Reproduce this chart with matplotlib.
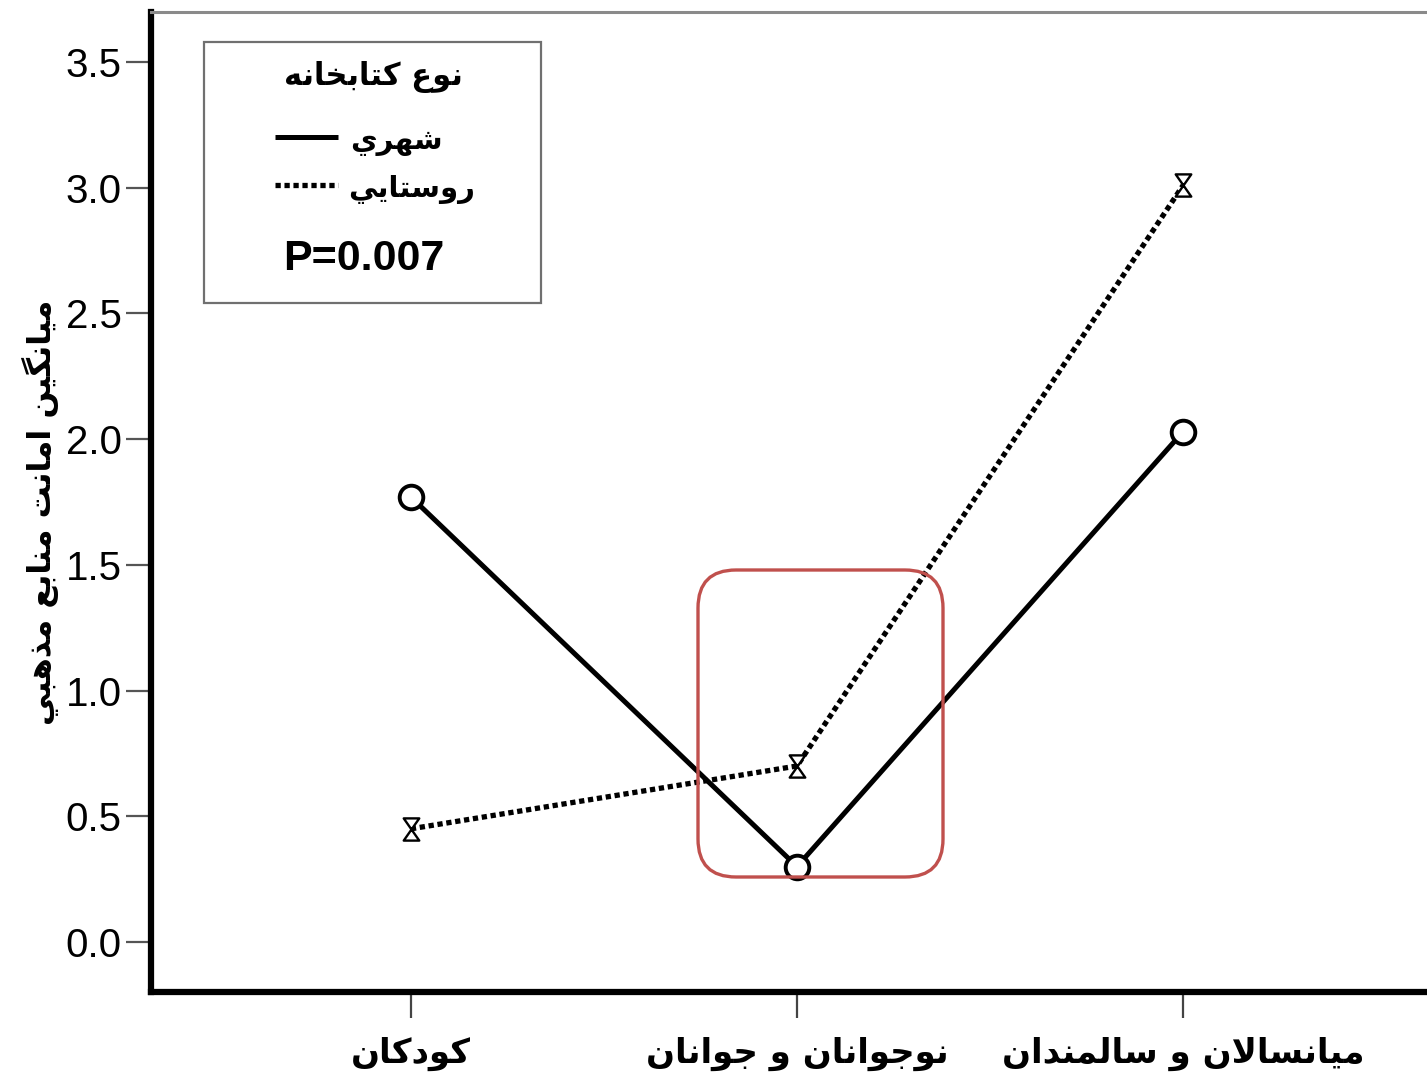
import matplotlib
matplotlib.use("Agg")
import matplotlib.pyplot as plt
from matplotlib.path import Path
from matplotlib.patches import Rectangle, FancyBboxPatch
from matplotlib.lines import Line2D
from matplotlib.transforms import IdentityTransform

# ---------------- data ----------------
categories = ["كودكان", "نوجوانان و جوانان", "ميانسالان و سالمندان"]
urban_values = [1.77, 0.30, 2.03]     # شهري
rural_values = [0.45, 0.70, 3.01]     # روستايي
series_names = ["شهري", "روستايي"]
legend_title = "نوع كتابخانه"
y_label = "ميانگين امانت منابع مذهبي"
p_text = "P=0.007"
y_ticks = [0.0, 0.5, 1.0, 1.5, 2.0, 2.5, 3.0, 3.5]

# ---------------- simple Arabic shaping ----------------
FORMS = {
    '\u0627': ('\uFE8D', '\uFE8E', None, None),
    '\u0628': ('\uFE8F', '\uFE90', '\uFE91', '\uFE92'),
    '\u062A': ('\uFE95', '\uFE96', '\uFE97', '\uFE98'),
    '\u062C': ('\uFE9D', '\uFE9E', '\uFE9F', '\uFEA0'),
    '\u062E': ('\uFEA5', '\uFEA6', '\uFEA7', '\uFEA8'),
    '\u062F': ('\uFEA9', '\uFEAA', None, None),
    '\u0630': ('\uFEAB', '\uFEAC', None, None),
    '\u0631': ('\uFEAD', '\uFEAE', None, None),
    '\u0633': ('\uFEB1', '\uFEB2', '\uFEB3', '\uFEB4'),
    '\u0634': ('\uFEB5', '\uFEB6', '\uFEB7', '\uFEB8'),
    '\u0639': ('\uFEC9', '\uFECA', '\uFECB', '\uFECC'),
    '\u0643': ('\uFED9', '\uFEDA', '\uFEDB', '\uFEDC'),
    '\u0644': ('\uFEDD', '\uFEDE', '\uFEDF', '\uFEE0'),
    '\u0645': ('\uFEE1', '\uFEE2', '\uFEE3', '\uFEE4'),
    '\u0646': ('\uFEE5', '\uFEE6', '\uFEE7', '\uFEE8'),
    '\u0647': ('\uFEE9', '\uFEEA', '\uFEEB', '\uFEEC'),
    '\u0648': ('\uFEED', '\uFEEE', None, None),
    '\u064A': ('\uFEF1', '\uFEF2', '\uFEF3', '\uFEF4'),
    '\u06AF': ('\uFB92', '\uFB93', '\uFB94', '\uFB95'),
}


def shape(text):
    tokens = []
    i = 0
    while i < len(text):
        if text[i] == '\u0644' and i + 1 < len(text) and text[i + 1] == '\u0627':
            tokens.append('LA')
            i += 2
        else:
            tokens.append(text[i])
            i += 1

    def joins_next(t):
        return t in FORMS and FORMS[t][2] is not None

    def joins_prev(t):
        return t in FORMS or t == 'LA'

    out = []
    for k, t in enumerate(tokens):
        prev = tokens[k - 1] if k > 0 else None
        nxt = tokens[k + 1] if k + 1 < len(tokens) else None
        jp = prev is not None and joins_next(prev) and joins_prev(t)
        jn = nxt is not None and joins_next(t) and joins_prev(nxt)
        if t == 'LA':
            out.append('\uFEFC' if jp else '\uFEFB')
        elif t in FORMS:
            iso, fin, ini, med = FORMS[t]
            if jp and jn:
                out.append(med)
            elif jp:
                out.append(fin)
            elif jn:
                out.append(ini)
            else:
                out.append(iso)
        else:
            out.append(t)
    return ''.join(out)[::-1]


# ---------------- figure ----------------
W, H = 1427, 1077
fig = plt.figure(figsize=(W / 100, H / 100), dpi=100)


def fx(x):
    return x / W


def fy(y):
    return 1 - y / H


ax_left, ax_right, ax_top, ax_bot = 151, 1443, 12, 992
ax = fig.add_axes([fx(ax_left), fy(ax_bot), (ax_right - ax_left) / W, (ax_bot - ax_top) / H])

x = list(range(len(categories)))

hourglass = Path([(-0.7, 1), (0.7, 1), (-0.7, -1), (0.7, -1), (-0.7, 1)],
                 [Path.MOVETO, Path.LINETO, Path.LINETO, Path.LINETO, Path.CLOSEPOLY])

ax.plot(x, rural_values, color='black', lw=3.8, linestyle=(0, (1, 0.7)),
        dash_capstyle='butt', marker=hourglass, markersize=16,
        markerfacecolor='white', markeredgecolor='black', markeredgewidth=1.7, zorder=3)
ax.plot(x, urban_values, color='black', lw=3.6, solid_capstyle='butt',
        marker='o', markersize=17, markerfacecolor='white',
        markeredgecolor='black', markeredgewidth=2.8, zorder=4)

ax.set_xlim(-0.673, 2.673)
ax.set_ylim(-0.199, 3.699)

ax.set_yticks(y_ticks)
ax.set_yticklabels([f"{v:.1f}" for v in y_ticks], fontfamily='Liberation Sans', fontsize=29)
ax.set_xticks(x)
ax.set_xticklabels([shape(c) for c in categories], fontfamily='DejaVu Sans',
                   fontweight='bold', fontsize=24.5)

ax.tick_params(axis='y', direction='out', length=18, width=1.6, color='#555555', pad=3)
ax.tick_params(axis='x', direction='out', length=19, width=1.6, color='#444444', pad=13)

for side in ['left', 'bottom']:
    ax.spines[side].set_linewidth(4.5)
    ax.spines[side].set_color('black')
ax.spines['top'].set_linewidth(2.2)
ax.spines['top'].set_color('#8a8a8a')
ax.spines['right'].set_visible(False)

# y label
fig.text(fx(40), fy(512), shape(y_label), rotation=90, ha='center', va='center',
         fontfamily='DejaVu Sans', fontweight='bold', fontsize=23)

# ---------------- legend box ----------------
fig.add_artist(Rectangle((fx(204), fy(303)), (541 - 204) / W, (303 - 42) / H,
                         transform=fig.transFigure, fill=False,
                         edgecolor='#707070', lw=1.6))
fig.text(fx(373), fy(77), shape(legend_title), ha='center', va='center',
         fontfamily='DejaVu Sans', fontweight='bold', fontsize=22)
fig.add_artist(Line2D([fx(275), fx(338)], [fy(137), fy(137)], transform=fig.transFigure,
                      color='black', lw=3.6, solid_capstyle='butt'))
fig.text(fx(350), fy(142), shape(series_names[0]), ha='left', va='center',
         fontfamily='DejaVu Sans', fontweight='bold', fontsize=21)
fig.add_artist(Line2D([fx(275), fx(338)], [fy(185), fy(185)], transform=fig.transFigure,
                      color='black', lw=3.8, linestyle=(0, (1, 0.7)), dash_capstyle='butt'))
fig.text(fx(348), fy(190), shape(series_names[1]), ha='left', va='center',
         fontfamily='DejaVu Sans', fontweight='bold', fontsize=21)
fig.text(fx(283), fy(259), p_text, ha='left', va='center',
         fontfamily='Liberation Sans', fontweight='bold', fontsize=31)

# ---------------- highlight box ----------------
fig.add_artist(FancyBboxPatch((698, H - 877), 943 - 698, 877 - 570,
                              boxstyle="round,pad=0,rounding_size=38",
                              transform=IdentityTransform(), fill=False,
                              edgecolor='#C0504D', lw=2.4, zorder=10))

fig.savefig("out.png", dpi=100)
